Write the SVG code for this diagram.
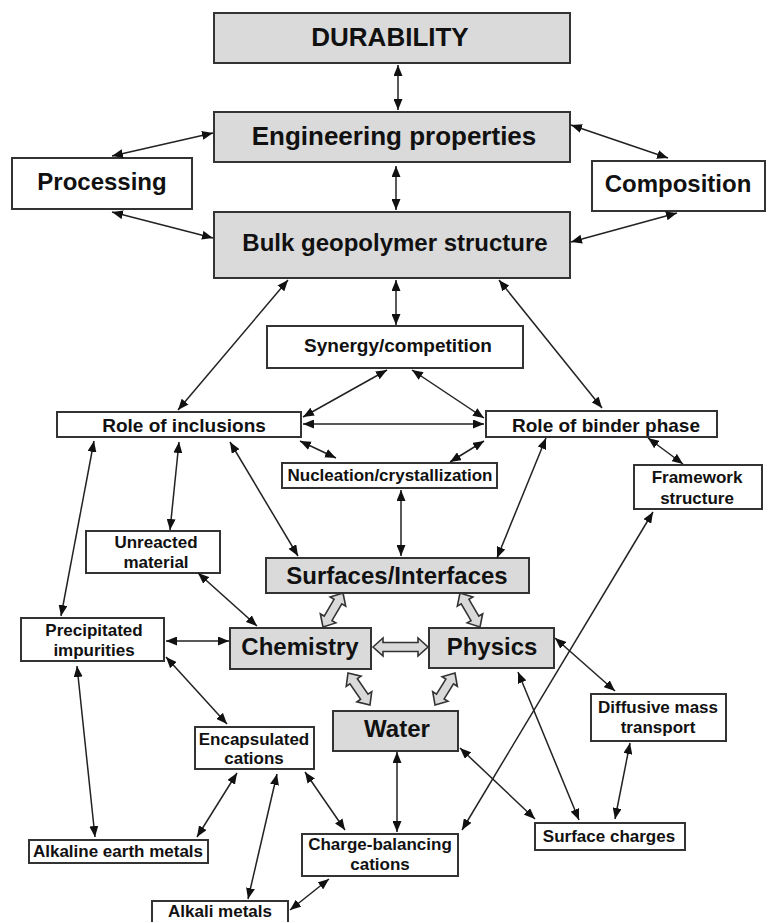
<svg xmlns="http://www.w3.org/2000/svg" width="766" height="922" viewBox="0 0 766 922">
<style>
.box{fill:#fff;stroke:#333;stroke-width:2}
.g{fill:#dadada}
text{font-family:"Liberation Sans",Arial,sans-serif;font-weight:bold;fill:#111;text-anchor:middle}
.t26{font-size:26px}.t24{font-size:24px}.t19{font-size:19px}.t17{font-size:17px}
.c line{stroke:#222;stroke-width:1.5;marker-start:url(#ah);marker-end:url(#ah)}
.blk{fill:#dadada;stroke:#333;stroke-width:1.6;stroke-linejoin:miter}
</style>
<defs>
<marker id="ah" markerUnits="userSpaceOnUse" markerWidth="11" markerHeight="9" refX="11" refY="4.5" orient="auto-start-reverse" viewBox="0 0 11 9">
<path d="M0,0 L11,4.5 L0,9 z" fill="#111"/>
</marker>
</defs>
<rect width="766" height="922" fill="#fff"/>

<g id="durability"><rect class="box g" x="214" y="13" width="356" height="50"/><text class="t26" x="390" y="46">DURABILITY</text></g>
<g id="engineering"><rect class="box g" x="214" y="112" width="356" height="50"/><text class="t26" x="394" y="145">Engineering properties</text></g>
<g id="processing"><rect class="box" x="12" y="158" width="180" height="51"/><text class="t24" x="102" y="190">Processing</text></g>
<g id="composition"><rect class="box" x="592" y="161" width="173" height="50"/><text class="t24" x="678" y="192">Composition</text></g>
<g id="bulk"><rect class="box g" x="214" y="212" width="356" height="66"/><text class="t24" x="395" y="251">Bulk geopolymer structure</text></g>
<g id="synergy"><rect class="box" x="267" y="326" width="256" height="42"/><text class="t19" x="398" y="352">Synergy/competition</text></g>
<g id="inclusions"><rect class="box" x="57" y="412" width="244" height="25"/><text class="t19" x="184" y="432">Role of inclusions</text></g>
<g id="binder"><rect class="box" x="486" y="411" width="231" height="26"/><text class="t19" x="606" y="432">Role of binder phase</text></g>
<g id="nucleation"><rect class="box" x="282" y="463" width="215" height="25"/><text class="t17" x="390" y="481">Nucleation/crystallization</text></g>
<g id="framework"><rect class="box" x="634" y="465" width="128" height="44"/><text class="t17" x="697" y="483">Framework</text><text class="t17" x="697" y="504">structure</text></g>
<g id="unreacted"><rect class="box" x="86" y="531" width="134" height="42"/><text class="t17" x="156" y="548">Unreacted</text><text class="t17" x="156" y="568">material</text></g>
<g id="surfaces"><rect class="box g" x="266" y="558" width="263" height="35"/><text class="t24" x="397" y="584">Surfaces/Interfaces</text></g>
<g id="precipitated"><rect class="box" x="21" y="618" width="143" height="43"/><text class="t17" x="94" y="636">Precipitated</text><text class="t17" x="94" y="656">impurities</text></g>
<g id="chemistry"><rect class="box g" x="230" y="628" width="141" height="41"/><text class="t24" x="300" y="655">Chemistry</text></g>
<g id="physics"><rect class="box g" x="429" y="628" width="125" height="40"/><text class="t24" x="492" y="655">Physics</text></g>
<g id="water"><rect class="box g" x="333" y="711" width="125" height="40"/><text class="t24" x="397" y="737">Water</text></g>
<g id="diffusive"><rect class="box" x="591" y="694" width="135" height="47"/><text class="t17" x="658" y="713">Diffusive mass</text><text class="t17" x="658" y="733">transport</text></g>
<g id="encapsulated"><rect class="box" x="195" y="727" width="119" height="42"/><text class="t17" x="254" y="745">Encapsulated</text><text class="t17" x="254" y="764">cations</text></g>
<g id="alkaline-earth"><rect class="box" x="29" y="840" width="179" height="23"/><text class="t17" x="118" y="857">Alkaline earth metals</text></g>
<g id="charge-balancing"><rect class="box" x="302" y="834" width="156" height="42"/><text class="t17" x="380" y="850">Charge-balancing</text><text class="t17" x="380" y="870">cations</text></g>
<g id="surface-charges"><rect class="box" x="535" y="823" width="150" height="27"/><text class="t17" x="609" y="842">Surface charges</text></g>
<g id="alkali"><rect class="box" x="152" y="901" width="136" height="28"/><text class="t17" x="220" y="917">Alkali metals</text></g>

<g id="connectors" class="c">
<line x1="398" y1="65" x2="398" y2="110"/>
<line x1="396" y1="166" x2="396" y2="210"/>
<line x1="112" y1="156" x2="213" y2="133"/>
<line x1="112" y1="212" x2="213" y2="238"/>
<line x1="571" y1="125" x2="668" y2="158"/>
<line x1="571" y1="242" x2="677" y2="213"/>
<line x1="288" y1="280" x2="178" y2="410"/>
<line x1="396" y1="280" x2="396" y2="325"/>
<line x1="499" y1="280" x2="602" y2="408"/>
<line x1="387" y1="370" x2="303" y2="417"/>
<line x1="412" y1="370" x2="484" y2="418"/>
<line x1="303" y1="424" x2="484" y2="424"/>
<line x1="300" y1="441" x2="336" y2="458"/>
<line x1="450" y1="462" x2="484" y2="441"/>
<line x1="179" y1="442" x2="170" y2="530"/>
<line x1="230" y1="442" x2="298" y2="556"/>
<line x1="94" y1="441" x2="61" y2="616"/>
<line x1="401" y1="490" x2="401" y2="556"/>
<line x1="546" y1="438" x2="497" y2="558"/>
<line x1="648" y1="438" x2="683" y2="464"/>
<line x1="653" y1="512" x2="462" y2="830"/>
<line x1="198" y1="573" x2="257" y2="626"/>
<line x1="166" y1="641" x2="229" y2="641"/>
<line x1="166" y1="657" x2="227" y2="724"/>
<line x1="77" y1="666" x2="95" y2="837"/>
<line x1="237" y1="773" x2="197" y2="837"/>
<line x1="277" y1="774" x2="248" y2="899"/>
<line x1="305" y1="772" x2="345" y2="830"/>
<line x1="329" y1="879" x2="290" y2="910"/>
<line x1="397" y1="752" x2="397" y2="832"/>
<line x1="555" y1="638" x2="615" y2="691"/>
<line x1="518" y1="672" x2="579" y2="820"/>
<line x1="460" y1="748" x2="535" y2="819"/>
<line x1="630" y1="743" x2="615" y2="819"/>
</g>

<g id="block-arrows">
<path class="blk" transform="translate(343,593) rotate(120.5)" d="M0,0 L10,-9 L10,-4.5 L29.4,-4.5 L29.4,-9 L39.4,0 L29.4,9 L29.4,4.5 L10,4.5 L10,9 Z"/>
<path class="blk" transform="translate(460,593) rotate(59.5)" d="M0,0 L10,-9 L10,-4.5 L29.4,-4.5 L29.4,-9 L39.4,0 L29.4,9 L29.4,4.5 L10,4.5 L10,9 Z"/>
<path class="blk" transform="translate(373,647)" d="M0,0 L10,-9 L10,-4.5 L45,-4.5 L45,-9 L55,0 L45,9 L45,4.5 L10,4.5 L10,9 Z"/>
<path class="blk" transform="translate(348,673) rotate(55.5)" d="M0,0 L10,-9 L10,-4.5 L28.8,-4.5 L28.8,-9 L38.8,0 L28.8,9 L28.8,4.5 L10,4.5 L10,9 Z"/>
<path class="blk" transform="translate(455,673) rotate(122)" d="M0,0 L10,-9 L10,-4.5 L27.7,-4.5 L27.7,-9 L37.7,0 L27.7,9 L27.7,4.5 L10,4.5 L10,9 Z"/>
</g>
</svg>
